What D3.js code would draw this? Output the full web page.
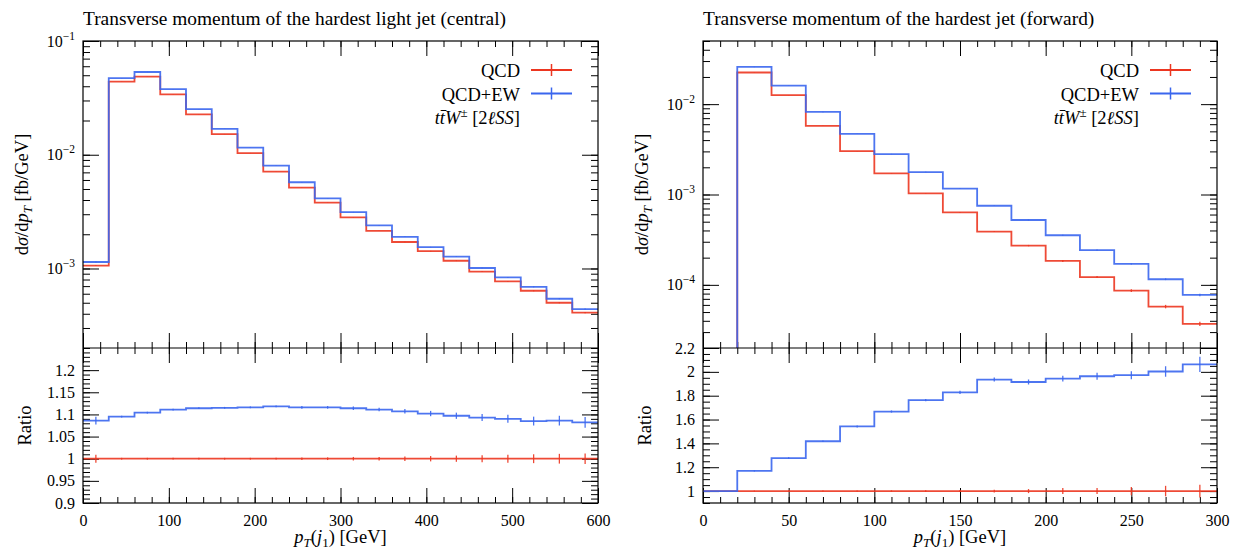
<!DOCTYPE html>
<html>
<head>
<meta charset="utf-8">
<script src="https://cdn.jsdelivr.net/npm/d3@7"></script>
<style>
  body { margin: 0; background: #fff; }
  svg text { font-family: "Liberation Serif", serif; fill: #000; }
</style>
</head>
<body>
<div id="chart"></div>
<script>
// ---- central (left) : hardest light jet, 30 GeV bins
const centralEdges = [0, 30, 60, 90, 120, 150, 180, 210, 240, 270, 300, 330, 360, 390, 420, 450, 480, 510, 540, 570, 600]
const centralQCD = [0.00106, 0.0440, 0.0487, 0.0340, 0.0226, 0.0152, 0.01035, 0.0071, 0.00514, 0.00379,
  0.00282, 0.00214, 0.00171, 0.00142, 0.00117, 0.00094, 0.00077, 0.000637, 0.00050, 0.000409]
const centralEW = [0.00114, 0.0471, 0.0534, 0.0377, 0.0252, 0.0169, 0.01153, 0.00801, 0.00573, 0.00414,
  0.00313, 0.00239, 0.00190, 0.00154, 0.00127, 0.00101, 0.000835, 0.00069, 0.000542, 0.00044]
const centralRatioQCD = [1, 1, 1, 1, 1, 1, 1, 1, 1, 1, 1, 1, 1, 1, 1, 1, 1, 1, 1, 1]
const centralRatioEW = [1.086, 1.095, 1.104, 1.111, 1.114, 1.115, 1.116, 1.118, 1.116, 1.116,
  1.114, 1.111, 1.107, 1.102, 1.097, 1.093, 1.090, 1.085, 1.086, 1.082]
const centralErrQCD = [0.009, 0.002, 0.002, 0.002, 0.002, 0.002, 0.002, 0.002, 0.003, 0.003,
  0.004, 0.004, 0.005, 0.006, 0.007, 0.008, 0.009, 0.010, 0.011, 0.012]
const centralErrEW = [0.009, 0.002, 0.002, 0.002, 0.002, 0.002, 0.002, 0.002, 0.003, 0.003,
  0.004, 0.004, 0.005, 0.006, 0.007, 0.008, 0.009, 0.010, 0.011, 0.012]
const centralXTicks = [0, 100, 200, 300, 400, 500, 600]
const centralLogTicks = [1e-3, 1e-2, 1e-1]
const centralRatioTicks = [0.9, 0.95, 1, 1.05, 1.1, 1.15, 1.2]

// ---- forward (right) : hardest jet, 20 GeV bins
const forwardEdges = [0, 20, 40, 60, 80, 100, 120, 140, 160, 180, 200, 220, 240, 260, 280, 300]
const forwardQCD = [0, 0.0224, 0.01256, 0.00575, 0.00302, 0.00171, 0.00103, 0.000635, 0.000388,
  0.000272, 0.000184, 0.000122, 0.0000865, 0.0000575, 0.000037]
const forwardEW = [0, 0.0258, 0.01606, 0.0082, 0.00469, 0.0028, 0.00177, 0.00116, 0.000751,
  0.000522, 0.000354, 0.000242, 0.0001706, 0.0001154, 0.0000774]
const forwardRatioQCD = [1, 1, 1, 1, 1, 1, 1, 1, 1, 1, 1, 1, 1, 1, 1]
const forwardRatioEW = [1, 1.169, 1.277, 1.418, 1.542, 1.667, 1.763, 1.828, 1.935, 1.915, 1.943, 1.963, 1.972, 2.003, 2.062]
const forwardErrQCD = [0, 0.004, 0.004, 0.005, 0.005, 0.006, 0.007, 0.008, 0.012, 0.017, 0.025, 0.025, 0.034, 0.044, 0.054]
const forwardErrEW = [0, 0.005, 0.006, 0.007, 0.008, 0.009, 0.010, 0.013, 0.017, 0.021, 0.025, 0.030, 0.034, 0.044, 0.064]
const forwardXTicks = [0, 50, 100, 150, 200, 250, 300]
const forwardLogTicks = [1e-4, 1e-3, 1e-2]
const forwardRatioTicks = [1, 1.2, 1.4, 1.6, 1.8, 2, 2.2]

const W = 1234, H = 550
const red = '#ec3620', blue = '#3a66ee'
const yTop = 41, yDiv = 348, yBot = 503

const svg = d3.select('#chart').append('svg')
  .attr('width', W)
  .attr('height', H)

const panels = [
  { left: 83, right: 598, title: 'Transverse momentum of the hardest light jet (central)',
    edges: centralEdges, qcd: centralQCD, ew: centralEW, rQCD: centralRatioQCD, rEW: centralRatioEW,
    eQCD: centralErrQCD, eEW: centralErrEW, xTicks: centralXTicks, xMinor: 20,
    yDomain: [2e-4, 0.1], logTicks: centralLogTicks,
    rDomain: [0.9, 1.25], rTicks: centralRatioTicks, rMinor: 0.01 },
  { left: 703, right: 1217, title: 'Transverse momentum of the hardest jet (forward)',
    edges: forwardEdges, qcd: forwardQCD, ew: forwardEW, rQCD: forwardRatioQCD, rEW: forwardRatioEW,
    eQCD: forwardErrQCD, eEW: forwardErrEW, xTicks: forwardXTicks, xMinor: 10,
    yDomain: [2e-5, 0.05], logTicks: forwardLogTicks,
    rDomain: [0.9, 2.2], rTicks: forwardRatioTicks, rMinor: 0.05 }
]

// step histogram; a leading empty bin makes the line rise from the floor
function stepPath(edges, vals, x, y) {
  const p = d3.path()
  let started = false
  vals.forEach((v, i) => {
    if (v <= 0) return
    const xa = x(edges[i]), xb = x(edges[i + 1]), yv = y(v)
    if (!started) {
      if (i > 0) { p.moveTo(xa, y.range()[0]); p.lineTo(xa, yv) }
      else p.moveTo(xa, yv)
      started = true
    } else p.lineTo(xa, yv)
    p.lineTo(xb, yv)
  })
  return p.toString()
}

function drawSeries(g, edges, vals, errs, x, y, color) {
  g.append('path')
    .attr('d', stepPath(edges, vals, x, y))
    .attr('fill', 'none')
    .attr('stroke', color)
    .attr('stroke-width', 1.8)
    .attr('stroke-opacity', 0.9)
  vals.forEach((v, i) => {
    if (v <= 0) return
    const xc = x((edges[i] + edges[i + 1]) / 2)
    g.append('line')
      .attr('x1', xc).attr('x2', xc)
      .attr('y1', y(v - errs[i])).attr('y2', y(v + errs[i]))
      .attr('stroke', color).attr('stroke-width', 1.3).attr('stroke-opacity', 0.9)
  })
}

function noDomain(sel) { sel.select('.domain').remove() }

function drawPanel(p) {
  const g = svg.append('g')
  const x = d3.scaleLinear().domain([p.edges[0], p.edges[p.edges.length - 1]]).range([p.left, p.right])
  const y = d3.scaleLog().domain(p.yDomain).range([yDiv, yTop])
  const yr = d3.scaleLinear().domain(p.rDomain).range([yBot, yDiv])
  const xMinorTicks = d3.range(x.domain()[0], x.domain()[1] + 0.1, p.xMinor)

  // log minor ticks
  const logMinor = []
  for (let e = Math.floor(Math.log10(p.yDomain[0])); e <= Math.ceil(Math.log10(p.yDomain[1])); e++) {
    for (let m = 1; m < 10; m++) {
      const v = m * Math.pow(10, e)
      if (v >= p.yDomain[0] * 0.999 && v <= p.yDomain[1] * 1.001) logMinor.push(v)
    }
  }
  const rMinorTicks = d3.range(p.rDomain[0], p.rDomain[1] + 1e-6, p.rMinor).map(v => +v.toFixed(3))

  // x ticks on top frame, divider (both ways) and bottom
  g.append('g').attr('transform', `translate(0,${yTop})`)
    .call(d3.axisTop(x).tickValues(xMinorTicks).tickSize(-6).tickFormat('')).call(noDomain)
  g.append('g').attr('transform', `translate(0,${yTop})`)
    .call(d3.axisTop(x).tickValues(p.xTicks).tickSize(-15).tickFormat('')).call(noDomain)
  g.append('g').attr('transform', `translate(0,${yDiv})`)
    .call(d3.axisTop(x).tickValues(xMinorTicks).tickSize(6).tickFormat('')).call(noDomain)
  g.append('g').attr('transform', `translate(0,${yDiv})`)
    .call(d3.axisTop(x).tickValues(p.xTicks).tickSize(15).tickFormat('')).call(noDomain)
  g.append('g').attr('transform', `translate(0,${yDiv})`)
    .call(d3.axisBottom(x).tickValues(xMinorTicks).tickSize(6).tickFormat('')).call(noDomain)
  g.append('g').attr('transform', `translate(0,${yDiv})`)
    .call(d3.axisBottom(x).tickValues(p.xTicks).tickSize(15).tickFormat('')).call(noDomain)
  g.append('g').attr('transform', `translate(0,${yBot})`)
    .call(d3.axisBottom(x).tickValues(xMinorTicks).tickSize(-6).tickFormat('')).call(noDomain)
  g.append('g').attr('transform', `translate(0,${yBot})`)
    .call(d3.axisBottom(x).tickValues(p.xTicks).tickSize(-15).tickPadding(12).tickFormat(d => d)).call(noDomain)
    .selectAll('text').attr('font-size', 16)

  // y ticks top panel (log)
  g.append('g').attr('transform', `translate(${p.left},0)`)
    .call(d3.axisLeft(y).tickValues(logMinor).tickSize(-7).tickFormat('')).call(noDomain)
  g.append('g').attr('transform', `translate(${p.right},0)`)
    .call(d3.axisRight(y).tickValues(logMinor).tickSize(-7).tickFormat('')).call(noDomain)
  g.append('g').attr('transform', `translate(${p.right},0)`)
    .call(d3.axisRight(y).tickValues(p.logTicks).tickSize(-16).tickFormat('')).call(noDomain)
  const logAx = g.append('g').attr('transform', `translate(${p.left},0)`)
    .call(d3.axisLeft(y).tickValues(p.logTicks).tickSize(-16).tickPadding(8).tickFormat('')).call(noDomain)
  logAx.selectAll('.tick text').each(function (d) {
    const t = d3.select(this).attr('font-size', 16)
    t.append('tspan').text('10')
    t.append('tspan').attr('dy', -7).attr('font-size', 11.5).text('\u2212' + Math.round(-Math.log10(d)))
  })

  // y ticks ratio panel
  g.append('g').attr('transform', `translate(${p.left},0)`)
    .call(d3.axisLeft(yr).tickValues(rMinorTicks).tickSize(-7).tickFormat('')).call(noDomain)
  g.append('g').attr('transform', `translate(${p.right},0)`)
    .call(d3.axisRight(yr).tickValues(rMinorTicks).tickSize(-7).tickFormat('')).call(noDomain)
  g.append('g').attr('transform', `translate(${p.right},0)`)
    .call(d3.axisRight(yr).tickValues(p.rTicks).tickSize(-16).tickFormat('')).call(noDomain)
  g.append('g').attr('transform', `translate(${p.left},0)`)
    .call(d3.axisLeft(yr).tickValues(p.rTicks).tickSize(-16).tickPadding(8).tickFormat(d => +d.toFixed(2))).call(noDomain)
    .selectAll('text').attr('font-size', 16)

  g.selectAll('.tick line').attr('stroke', '#000').attr('stroke-width', 1)

  // series
  drawSeries(g, p.edges, p.qcd, p.qcd.map((v, i) => v * p.eQCD[i]), x, y, red)
  drawSeries(g, p.edges, p.ew, p.ew.map((v, i) => v * p.eEW[i] / p.rEW[i]), x, y, blue)
  drawSeries(g, p.edges, p.rQCD, p.eQCD, x, yr, red)
  drawSeries(g, p.edges, p.rEW, p.eEW, x, yr, blue)

  // frames
  g.append('rect').attr('x', p.left).attr('y', yTop).attr('width', p.right - p.left).attr('height', yBot - yTop)
    .attr('fill', 'none').attr('stroke', '#000').attr('stroke-width', 1.2)
  g.append('line').attr('x1', p.left).attr('x2', p.right).attr('y1', yDiv).attr('y2', yDiv)
    .attr('stroke', '#000').attr('stroke-width', 1.2)

  // title
  g.append('text').attr('x', p.left).attr('y', 25).attr('font-size', 19.4).text(p.title)

  // legend
  const lx = p.right - 78
  const leg = [{ label: 'QCD', color: red, y: 77 }, { label: 'QCD+EW', color: blue, y: 100.5 }]
  leg.forEach(l => {
    g.append('text').attr('x', lx).attr('y', l.y).attr('text-anchor', 'end').attr('font-size', 18.5).text(l.label)
    g.append('line').attr('x1', lx + 11).attr('x2', lx + 52).attr('y1', l.y - 7).attr('y2', l.y - 7)
      .attr('stroke', l.color).attr('stroke-width', 1.8)
    g.append('line').attr('x1', lx + 31.5).attr('x2', lx + 31.5).attr('y1', l.y - 13).attr('y2', l.y - 1)
      .attr('stroke', l.color).attr('stroke-width', 1.5)
  })
  const proc = g.append('text').attr('x', lx).attr('y', 123.5).attr('text-anchor', 'end').attr('font-size', 18.5)
  proc.append('tspan').attr('font-style', 'italic').text('tt\u0304W')
  proc.append('tspan').attr('dy', -7).attr('font-size', 13).text('\u00b1')
  proc.append('tspan').attr('dy', 7).text(' [2')
  proc.append('tspan').attr('font-style', 'italic').text('\u2113SS')
  proc.append('tspan').text(']')

  // axis labels
  const xl = g.append('text').attr('x', (p.left + p.right) / 2).attr('y', 543)
    .attr('text-anchor', 'middle').attr('font-size', 18.5)
  xl.append('tspan').attr('font-style', 'italic').text('p')
  xl.append('tspan').attr('font-style', 'italic').attr('font-size', 13).attr('dy', 4).text('T')
  xl.append('tspan').attr('dy', -4).text('(')
  xl.append('tspan').attr('font-style', 'italic').text('j')
  xl.append('tspan').attr('font-size', 13).attr('dy', 4).text('1')
  xl.append('tspan').attr('dy', -4).text(') [GeV]')

  const yl = g.append('text')
    .attr('transform', `translate(${p.left - 55},${(yTop + yDiv) / 2}) rotate(-90)`)
    .attr('text-anchor', 'middle').attr('font-size', 18.5)
  yl.append('tspan').text('d')
  yl.append('tspan').attr('font-style', 'italic').text('\u03c3')
  yl.append('tspan').text('/d')
  yl.append('tspan').attr('font-style', 'italic').text('p')
  yl.append('tspan').attr('font-style', 'italic').attr('font-size', 13).attr('dy', 4).text('T')
  yl.append('tspan').attr('dy', -4).text(' [fb/GeV]')

  g.append('text')
    .attr('transform', `translate(${p.left - 52},${(yDiv + yBot) / 2}) rotate(-90)`)
    .attr('text-anchor', 'middle').attr('font-size', 18.5).text('Ratio')
}

panels.forEach(drawPanel)
</script>
</body>
</html>
